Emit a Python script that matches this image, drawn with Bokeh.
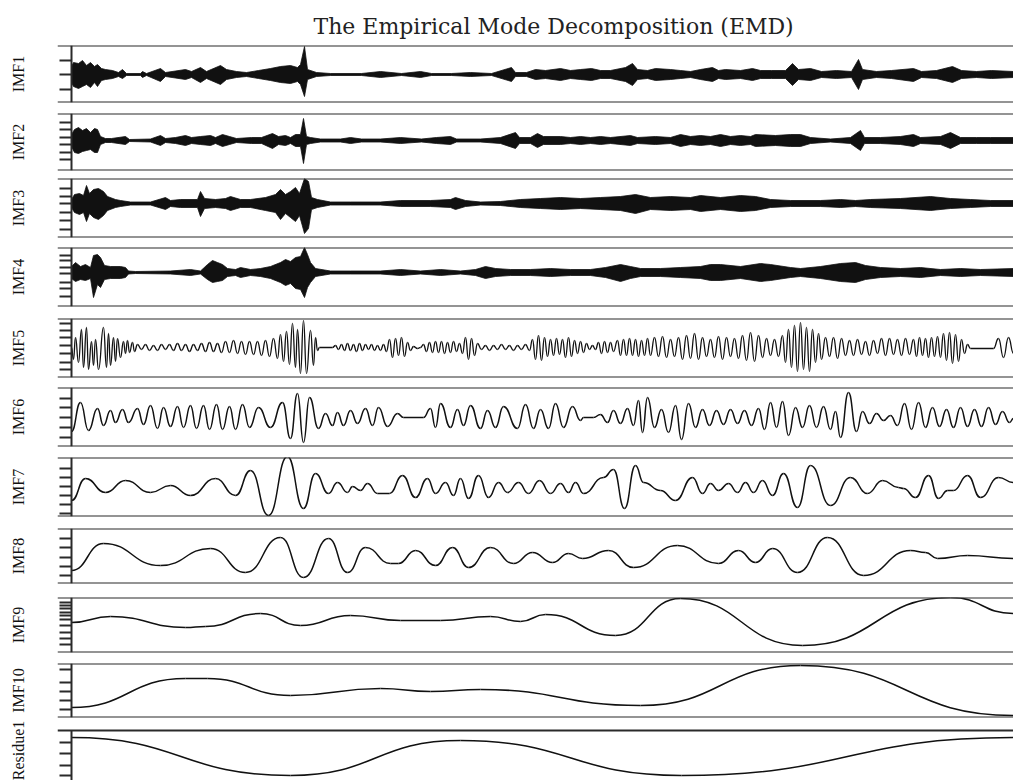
import numpy as np
from bokeh.plotting import figure
from bokeh.layouts import column
from bokeh.models import Span, LinearAxis, FixedTicker, Range1d, CustomLabelingPolicy
from bokeh.embed import file_html
from bokeh.resources import INLINE

# ------------------------------------------------------------------ data
labels = ["IMF1", "IMF2", "IMF3", "IMF4", "IMF5", "IMF6", "IMF7", "IMF8",
          "IMF9", "IMF10", "Residue1"]
title_text = "The Empirical Mode Decomposition (EMD)"

# high-frequency IMFs: envelope (upper / lower) read along the sample axis
imf1_t = [0, 2, 7, 11, 15, 19, 23, 26, 30, 34, 41, 47, 51, 55, 69, 71, 75, 89, 94, 114,
          120, 129, 135, 149, 155, 165, 175, 187, 199, 209, 219, 226, 229, 233, 236, 245, 259, 290, 309, 330,
          349, 360, 380, 399, 420, 440, 444, 455, 464, 474, 489, 499, 509, 520, 529, 539, 554, 561, 566, 576,
          584, 599, 609, 619, 629, 641, 647, 654, 669, 681, 689, 700, 714, 721, 727, 739, 750, 765, 780, 787,
          791, 805, 820, 842, 850, 865, 881, 890, 905, 920, 942]
imf1_up = [8, 12, 11, 14, 9, 12, 8, 10, 6, 5, 4, 2, 5, 1, 1, 3, 1, 6, 2, 5,
           3, 7, 3, 9, 5, 3, 2, 4, 6, 8, 9, 7, 10, 28, 5, 2, 1, 1, 3, 1,
           3, 1, 1, 2, 1, 7, 2, 2, 5, 4, 6, 4, 5, 6, 4, 4, 7, 11, 5, 4,
           6, 5, 4, 3, 5, 7, 4, 5, 4, 6, 4, 4, 4, 11, 5, 6, 3, 4, 3, 15,
           5, 3, 4, 6, 3, 4, 8, 4, 3, 4, 3]
imf1_lo = [-8, -12, -14, -12, -10, -13, -8, -12, -6, -5, -4, -2, -4, -1, -1, -3, -1, -7, -2, -5,
           -3, -8, -4, -10, -5, -3, -2, -4, -6, -8, -9, -7, -10, -22, -5, -2, -1, -1, -3, -1,
           -3, -1, -1, -2, -1, -7, -2, -2, -5, -4, -6, -4, -5, -6, -4, -4, -7, -11, -5, -4,
           -6, -5, -4, -3, -5, -7, -4, -5, -4, -6, -4, -4, -4, -11, -5, -6, -3, -4, -3, -15,
           -5, -3, -4, -7, -3, -4, -8, -4, -3, -4, -3]

imf2_t = [0, 3, 7, 11, 15, 19, 23, 26, 29, 34, 40, 54, 58, 79, 89, 94, 104, 114, 120, 129,
          139, 144, 151, 158, 165, 180, 190, 201, 207, 214, 219, 224, 229, 232, 235, 239, 249, 269, 279, 290,
          309, 329, 350, 365, 379, 385, 409, 429, 444, 448, 459, 466, 472, 489, 499, 509, 519, 529, 539, 559,
          566, 584, 599, 609, 619, 629, 639, 649, 659, 669, 679, 684, 704, 719, 729, 739, 759, 779, 789, 793,
          809, 829, 842, 849, 869, 879, 889, 905, 919, 942]
imf2_up = [6, 11, 13, 10, 12, 8, 12, 11, 4, 2, 2, 4, 1, 1.5, 5, 2, 3, 5, 3, 4,
           5, 3, 6, 4, 2, 3, 3, 7, 4, 5, 3, 6, 6, 22, 4, 3, 1.5, 1.5, 3, 1.5,
           1.5, 3, 1.5, 3, 4, 1.5, 1.5, 3, 8, 3, 3, 7, 4, 4, 3, 4, 3, 4, 3, 5,
           3, 4, 3, 6, 4, 5, 4, 6, 4, 5, 4, 6, 5, 6, 6, 3, 1.5, 3, 10, 3,
           3, 4, 6, 3, 4, 8, 3, 3, 3, 3]
imf2_lo = [-6, -12, -13, -11, -10, -9, -12, -12, -4, -2, -2, -4, -1, -1.5, -5, -2, -3, -5, -3, -4,
           -5, -3, -6, -4, -2, -3, -3, -8, -4, -5, -3, -6, -6, -23, -4, -3, -1.5, -1.5, -3, -1.5,
           -1.5, -3, -1.5, -3, -4, -1.5, -1.5, -3, -8, -3, -3, -7, -4, -4, -3, -4, -3, -4, -3, -5,
           -3, -4, -3, -6, -4, -5, -4, -6, -4, -5, -4, -6, -5, -6, -6, -3, -1.5, -3, -10, -3,
           -3, -4, -6, -3, -4, -8, -3, -3, -3, -3]

imf3_t = [0, 3, 8, 12, 15, 18, 22, 27, 32, 36, 44, 49, 59, 79, 94, 99, 109, 126, 129, 133,
          144, 154, 159, 169, 179, 194, 204, 209, 214, 219, 224, 228, 233, 237, 240, 246, 259, 279, 309, 329,
          359, 379, 384, 394, 409, 429, 449, 469, 489, 509, 529, 549, 564, 579, 599, 619, 629, 649, 669, 684,
          699, 719, 749, 769, 784, 799, 829, 859, 879, 899, 919, 942]
imf3_up = [4, 9, 10, 8, 18, 10, 14, 15, 12, 7, 4, 3, 1.5, 1.5, 6, 3, 4, 4, 12, 5,
           4, 5, 7, 4, 4, 6, 9, 14, 9, 12, 16, 10, 25, 22, 6, 4, 1.5, 1.5, 1.5, 3,
           3, 4, 6, 3, 1.5, 2, 4, 5, 6, 5, 6, 7, 9, 6, 7, 6, 8, 6, 8, 7,
           4, 3, 3, 4, 3, 4, 5, 7, 5, 4, 3, 3]
imf3_lo = [-4, -9, -11, -9, -18, -10, -14, -16, -12, -7, -4, -3, -1.5, -1.5, -6, -3, -4, -4, -13, -5,
           -4, -5, -7, -4, -4, -7, -9, -16, -10, -14, -18, -12, -30, -25, -6, -4, -1.5, -1.5, -1.5, -3,
           -3, -4, -6, -3, -1.5, -2, -4, -5, -6, -5, -6, -7, -10, -6, -7, -6, -8, -6, -8, -7,
           -4, -3, -3, -4, -3, -4, -5, -7, -5, -4, -3, -3]

imf4_t = [0, 4, 9, 14, 19, 22, 26, 29, 33, 39, 49, 54, 57, 64, 99, 119, 129, 136, 141, 146,
          151, 156, 164, 169, 179, 189, 199, 209, 214, 219, 224, 229, 233, 236, 239, 244, 259, 279, 309, 329,
          349, 369, 389, 404, 414, 424, 439, 459, 479, 499, 519, 534, 549, 559, 569, 589, 609, 629, 639, 649,
          669, 689, 699, 719, 729, 749, 769, 784, 794, 809, 829, 849, 869, 889, 909, 942]
imf4_up = [6, 10, 6, 8, 5, 17, 18, 15, 7, 6, 6, 5, 1.5, 1, 1.5, 3, 1.5, 8, 12, 10,
           8, 4, 3, 5, 3, 4, 6, 10, 13, 11, 15, 16, 25, 18, 10, 4, 1.5, 1.5, 1.5, 3,
           1.5, 3, 1.5, 3, 6, 4, 3, 3, 4, 3, 3, 5, 8, 6, 4, 4, 5, 6, 8, 8,
           6, 9, 8, 5, 4, 6, 9, 10, 7, 5, 4, 5, 3, 4, 3, 4]
imf4_lo = [-6, -9, -7, -8, -6, -25, -12, -15, -7, -6, -6, -5, -1.5, -1, -1.5, -3, -1.5, -7, -10, -9,
           -8, -4, -3, -5, -3, -4, -6, -10, -13, -11, -16, -17, -25, -15, -10, -4, -1.5, -1.5, -1.5, -3,
           -1.5, -3, -1.5, -3, -6, -4, -3, -3, -4, -3, -3, -5, -9, -6, -4, -4, -5, -6, -8, -8,
           -6, -9, -8, -5, -4, -6, -9, -10, -7, -5, -4, -5, -3, -4, -3, -4]

# lower-frequency IMFs: successive extrema (sample, value)
imf5_ext = [(0, 0), (2, -12), (4, 10), (7, -15), (10, 18), (12, -20), (15, 20), (17, -22), (20, 6), (22, -18),
            (24, 8), (27, -22), (32, 20), (35, -20), (37, 14), (39, -18), (42, 10), (44, -14), (46, 9), (49, -10),
            (52, 6), (54, -6), (56, 7), (58, -5), (61, 5), (63, -4),
            (66, 3), (70, -2), (74, 3), (78, -3), (82, 2), (86, -3), (90, 3), (94, -2), (98, 3), (102, -3),
            (106, 4), (110, -3), (114, 3), (118, -4), (122, 3), (126, -3), (130, 4), (134, -4), (138, 5), (142, -4),
            (146, 4), (150, -5), (154, 6), (158, -5), (162, 7), (166, -6), (170, 6), (174, -7),
            (178, 6), (182, -7), (186, 6), (190, -8), (194, 7), (198, -9), (202, 9), (206, -11), (209, 13), (212, -14),
            (215, 16), (218, -17), (221, 24), (224, -20), (226, 18), (229, -26), (232, 27), (235, -26), (239, 17),
            (242, -18), (244, 10), (246, -3), (248, 0), (261, 0),
            (264, 2), (267, -2), (270, 3), (273, -3), (276, 4), (279, -3), (282, 3), (285, -4), (288, 4), (291, -3),
            (294, 3), (297, -2), (300, 3), (303, -3), (306, 2), (309, -3), (312, 3), (315, -4),
            (318, 8), (321, -10), (324, 9), (327, -8), (330, 10), (333, -9), (336, 5), (339, -3), (342, 1), (346, -1),
            (349, 0), (352, 3), (355, -4), (358, 5), (361, -5), (364, 6), (367, -5), (370, 6), (373, -6), (376, 5),
            (379, -5), (382, 6), (385, -4), (388, 4), (391, -6), (394, 10), (397, -12), (400, 9), (403, -8), (406, 4),
            (410, -2), (414, 2), (418, -3), (422, 2), (426, -2), (430, 3), (434, -2), (438, 2), (442, -3), (446, 2),
            (450, -2), (454, 3), (458, -3),
            (461, 8), (464, -12), (467, 12), (470, -13), (473, 10), (476, -9), (479, 8), (482, -8), (485, 9), (488, -7),
            (491, 8), (494, -10), (497, 10), (500, -9), (503, 7), (506, -6), (509, 6), (512, -5), (515, 4), (518, -2),
            (521, 2), (524, -2), (527, 5), (530, -6), (533, 6), (536, -5), (539, 5), (542, -4), (546, 7), (549, -8),
            (552, 8), (555, -8), (558, 9), (561, -8), (564, 8), (567, -9), (570, 7), (573, -8), (576, 9), (579, -8),
            (583, 10), (587, -9), (591, 11), (595, -10), (599, 8), (603, -9), (607, 10), (611, -12), (615, 12), (619, -11),
            (623, 14), (627, -12), (631, 10), (635, -9), (639, 8), (643, -10), (647, 11), (651, -12), (655, 10), (659, -9),
            (663, 9), (667, -11), (671, 12), (675, -13), (679, 15), (683, -14), (687, 12), (691, -10), (695, 9), (699, -8),
            (703, 8), (707, -9),
            (711, 12), (714, -15), (717, 18), (720, -20), (723, 22), (726, -24), (729, 25), (732, -22), (735, 20), (738, -24),
            (741, 18), (744, -15), (747, 14), (750, -12), (754, 10), (758, -9), (762, 10), (766, -11),
            (770, 9), (774, -8), (778, 7), (782, -8), (786, 8), (790, -7), (794, 6), (798, -8), (802, 7), (806, -6),
            (810, 9), (814, -8), (818, 9), (822, -7), (826, 8), (830, -8), (834, 9), (838, -7), (842, 8), (845, -9),
            (848, 10), (851, -8), (854, 9), (857, -10), (860, 10), (863, -9), (866, 11), (869, -10), (872, 14), (875, -13),
            (878, 15), (881, -16), (884, 13), (887, -14), (890, 8), (893, -6), (896, 3), (899, -1), (922, -1), (927, 9),
            (932, -10), (937, 10), (942, -6)]

imf6_ext = [(0, -14), (9, 15), (17, -13), (26, 9), (32, -8), (39, 7), (44, -5), (51, 8), (57, -5), (66, 9),
            (72, -7), (79, 12), (86, -11), (92, 10), (99, -9), (106, 11), (112, -10), (119, 12), (125, -11), (132, 12),
            (138, -12), (145, 13), (151, -12), (158, 11), (164, -12), (171, 13), (178, -10), (187, 10), (199, -10), (211, 15),
            (219, -21), (226, 24), (232, -25), (238, 20), (247, -11), (254, 4), (261, -8), (266, 5), (272, -8), (279, 7),
            (286, -6), (294, 9), (301, -8), (307, 10), (316, -9), (326, 4), (332, 0), (352, 0), (359, 9), (364, -10),
            (369, 14), (379, -10), (386, 8), (392, -8), (399, 12), (409, -11), (416, 7), (424, -10), (432, 11), (446, -11),
            (454, 13), (462, -11), (469, 8), (477, -11), (484, 14), (492, -10), (501, 11), (509, -3), (512, 0), (522, 0),
            (529, 3), (536, -5), (542, 7), (549, -6), (556, 9), (562, -8), (567, 17), (571, -15), (576, 20), (583, -10),
            (590, 8), (597, -15), (604, 12), (610, -22), (617, 14), (624, -10), (631, 8), (638, -8), (645, 7), (652, -7),
            (659, 8), (666, -6), (673, 7), (680, -8), (687, 9), (693, -12), (699, 15), (705, -10), (711, 16), (717, -18),
            (724, 10), (731, -10), (738, 12), (745, -10), (752, 11), (759, -12), (764, 6), (769, -20), (777, 25), (785, -14),
            (791, 6), (798, -6), (805, 4), (812, -3), (819, 2), (826, -8), (833, 14), (840, -12), (847, 15), (854, -10),
            (861, 10), (868, -9), (875, 8), (882, -10), (889, 10), (896, -9), (903, 8), (910, -9), (917, 10), (924, -7),
            (931, 6), (938, -5), (942, -1)]

imf7_ext = [(0, -13), (14, 9), (34, -5), (54, 7), (79, -5), (99, 2), (119, -8), (144, 9), (164, -8), (179, 17),
            (197, -28), (216, 31), (232, -21), (244, 14), (257, -6), (266, 5), (276, -5), (281, 1), (289, -3), (296, 4),
            (306, -6), (318, -6), (331, 12), (344, -10), (356, 9), (364, -6), (374, 5), (382, -8), (389, 9), (397, -11),
            (407, 12), (417, -10), (427, 5), (436, -5), (447, 5), (457, -6), (468, 7), (479, -6), (489, 4), (497, -5),
            (504, 5), (512, -6), (532, 10), (542, 18), (553, -21), (564, 22), (572, 5), (589, -3), (604, -13), (621, 10),
            (631, -6), (639, 4), (647, -3), (657, 4), (666, -5), (674, 5), (682, -5), (691, 7), (701, -8), (712, 14),
            (726, -20), (739, 22), (759, -18), (779, 10), (796, -6), (811, 7), (827, 0), (832, -1), (844, -10), (857, 12),
            (867, -11), (876, -3), (882, -3), (896, 12), (909, -10), (927, 10), (942, 5)]

imf8_ext = [(0, -13), (32, 14), (89, -8), (139, 9), (174, -15), (209, 20), (232, -20), (257, 19), (276, -15), (294, 10),
            (319, -6), (327, -6), (344, 7), (364, -8), (381, 10), (397, -10), (419, 10), (442, -6), (461, 5), (481, -5),
            (497, 4), (511, -1), (537, 7), (562, -10), (606, 12), (647, -6), (667, 7), (684, -5), (701, 9), (726, -15),
            (756, 20), (792, -18), (839, 7), (854, 5), (866, -1), (896, 2), (942, -1)]

imf9_ext = [(0, -2), (39, 4), (114, -7), (134, -6), (189, 7), (229, -5), (279, 5), (329, 0), (369, 0), (419, 4),
            (449, -1), (474, 6), (544, -15), (609, 22), (731, -25), (879, 23), (942, 7)]

imf10_ext = [(0, -17), (114, 12), (136, 12), (219, -5), (309, 2), (359, -1), (409, 1), (569, -15), (729, 25), (942, -25)]

residue_ext = [(0, 18), (219, -20), (389, 15), (610, -20), (942, 18)]

# y-range of each panel (drawn box, in amplitude units) and its tick values
y_box = [(-28, 29), (-30, 27), (-34, 25), (-34, 25), (-30, 29), (-29, 30), (-29, 30),
         (-26, 29), (-32, 23), (-27, 27), (-25, 25)]
y_ticks = [[14, 0, -15], [18, 11, 3, -4, -12, -19], [15, 7, 0, -9, -17, -26],
           [17, 12, 5, -1, -10, -16, -24], [24, 17, 10, 2, -6, -15, -22],
           [19, 10, 0, -10, -20], [19, 10, 1, -8, -17, -26], [19, 10, 0, -9, -18],
           [18, 15, 12, 8, 5, 1, -5, -12, -18, -24], [21, 8, -1, -10, -19], [13, 2, -10, -20]]

envelopes = [(imf1_t, imf1_up, imf1_lo), (imf2_t, imf2_up, imf2_lo),
             (imf3_t, imf3_up, imf3_lo), (imf4_t, imf4_up, imf4_lo)]
curves = [imf5_ext, imf6_ext, imf7_ext, imf8_ext, imf9_ext, imf10_ext, residue_ext]

# ------------------------------------------------------------------ layout (page px)
frame_top = [45, 113, 178, 247, 318, 387, 457, 528, 597, 663, 730]
frame_bot = [102, 170, 237, 306, 377, 446, 516, 583, 652, 717, 780]
fig_top = [0, 110, 175, 244, 315, 384, 454, 525, 594, 660, 719]
# extra room above the box (px) so a long side label can be centred higher
extra_above = [0, 0, 0, 0, 0, 0, 0, 0, 0, 0, 10]
PAGE_H = 780
INK = "#111111"
FRAME = "#2a2a2a"
LABEL_FONT = "Liberation Serif"

no_labels = "for (const i of [...indices]) { indices.unset(i) } return indices"

figs = []
n = len(labels)
for i in range(n):
    ftop = fig_top[i]
    fbot = fig_top[i + 1] if i < n - 1 else PAGE_H
    lo_v, hi_v = y_box[i]
    upp = (hi_v - lo_v) / float(frame_bot[i] - frame_top[i])   # units per px
    hi_range = hi_v + extra_above[i] * upp
    bt = frame_top[i] - extra_above[i] - ftop
    bb = fbot - frame_bot[i]
    last = (i == n - 1)
    p = figure(width=1013, height=fbot - ftop,
               x_range=Range1d(-14, 942), y_range=Range1d(lo_v, hi_range),
               output_backend="svg", toolbar_location=None, x_axis_location=None,
               min_border_left=57, min_border_right=0, min_border_top=bt, min_border_bottom=bb,
               title=(title_text if i == 0 else None))
    p.outline_line_color = None
    p.xgrid.visible = False
    p.ygrid.visible = False

    # label-only axis
    lab = p.yaxis[0]
    lab.ticker = FixedTicker(ticks=[])
    lab.axis_line_color = None
    lab.major_tick_line_color = None
    lab.minor_tick_line_color = None
    lab.major_tick_out = 0
    lab.major_tick_in = 0
    lab.major_label_standoff = 0
    lab.axis_label = labels[i]
    lab.axis_label_text_font = LABEL_FONT
    lab.axis_label_text_font_size = "16px"
    lab.axis_label_text_font_style = "normal"
    lab.axis_label_text_color = INK
    lab.axis_label_standoff = 31

    # tick axis placed at the signal start, limited to the box
    ax = LinearAxis(fixed_location=0, ticker=FixedTicker(ticks=y_ticks[i]),
                    bounds=(lo_v, hi_v),
                    axis_line_width=2, axis_line_color=FRAME,
                    major_tick_line_width=2, major_tick_line_color=FRAME,
                    major_tick_in=0, major_tick_out=12,
                    minor_tick_line_color=None,
                    major_label_policy=CustomLabelingPolicy(code=no_labels))
    p.add_layout(ax, "left")

    # panel frame lines (top / bottom)
    p.add_layout(Span(location=hi_v, dimension="width", line_color=FRAME, line_width=2))
    if not last:
        p.add_layout(Span(location=lo_v, dimension="width", line_color=FRAME, line_width=2))

    if i < 4:
        t, up, lo = envelopes[i]
        p.varea(x=t, y1=lo, y2=up, fill_color=INK)
        p.line(t, up, line_color=INK, line_width=0.8)
        p.line(t, lo, line_color=INK, line_width=0.8)
    else:
        ext = np.array(curves[i - 4], dtype=float)
        tt, vv = ext[:, 0], ext[:, 1]
        cx = (tt[:-1] + tt[1:]) / 2.0
        p.bezier(x0=tt[:-1], y0=vv[:-1], x1=tt[1:], y1=vv[1:],
                 cx0=cx, cy0=vv[:-1], cx1=cx, cy1=vv[1:],
                 line_color=INK, line_width=1.5 if i > 4 else 1.3)

    if i == 0:
        p.title.align = "left"
        p.title.offset = 256
        p.title.text_font = "DejaVu Serif"
        p.title.text_font_size = "22px"
        p.title.text_font_style = "normal"
        p.title.text_color = "#222222"
        p.title.standoff = 13
    figs.append(p)

layout = column(*figs, spacing=0)
open("out.html", "w").write(file_html(layout, INLINE))
